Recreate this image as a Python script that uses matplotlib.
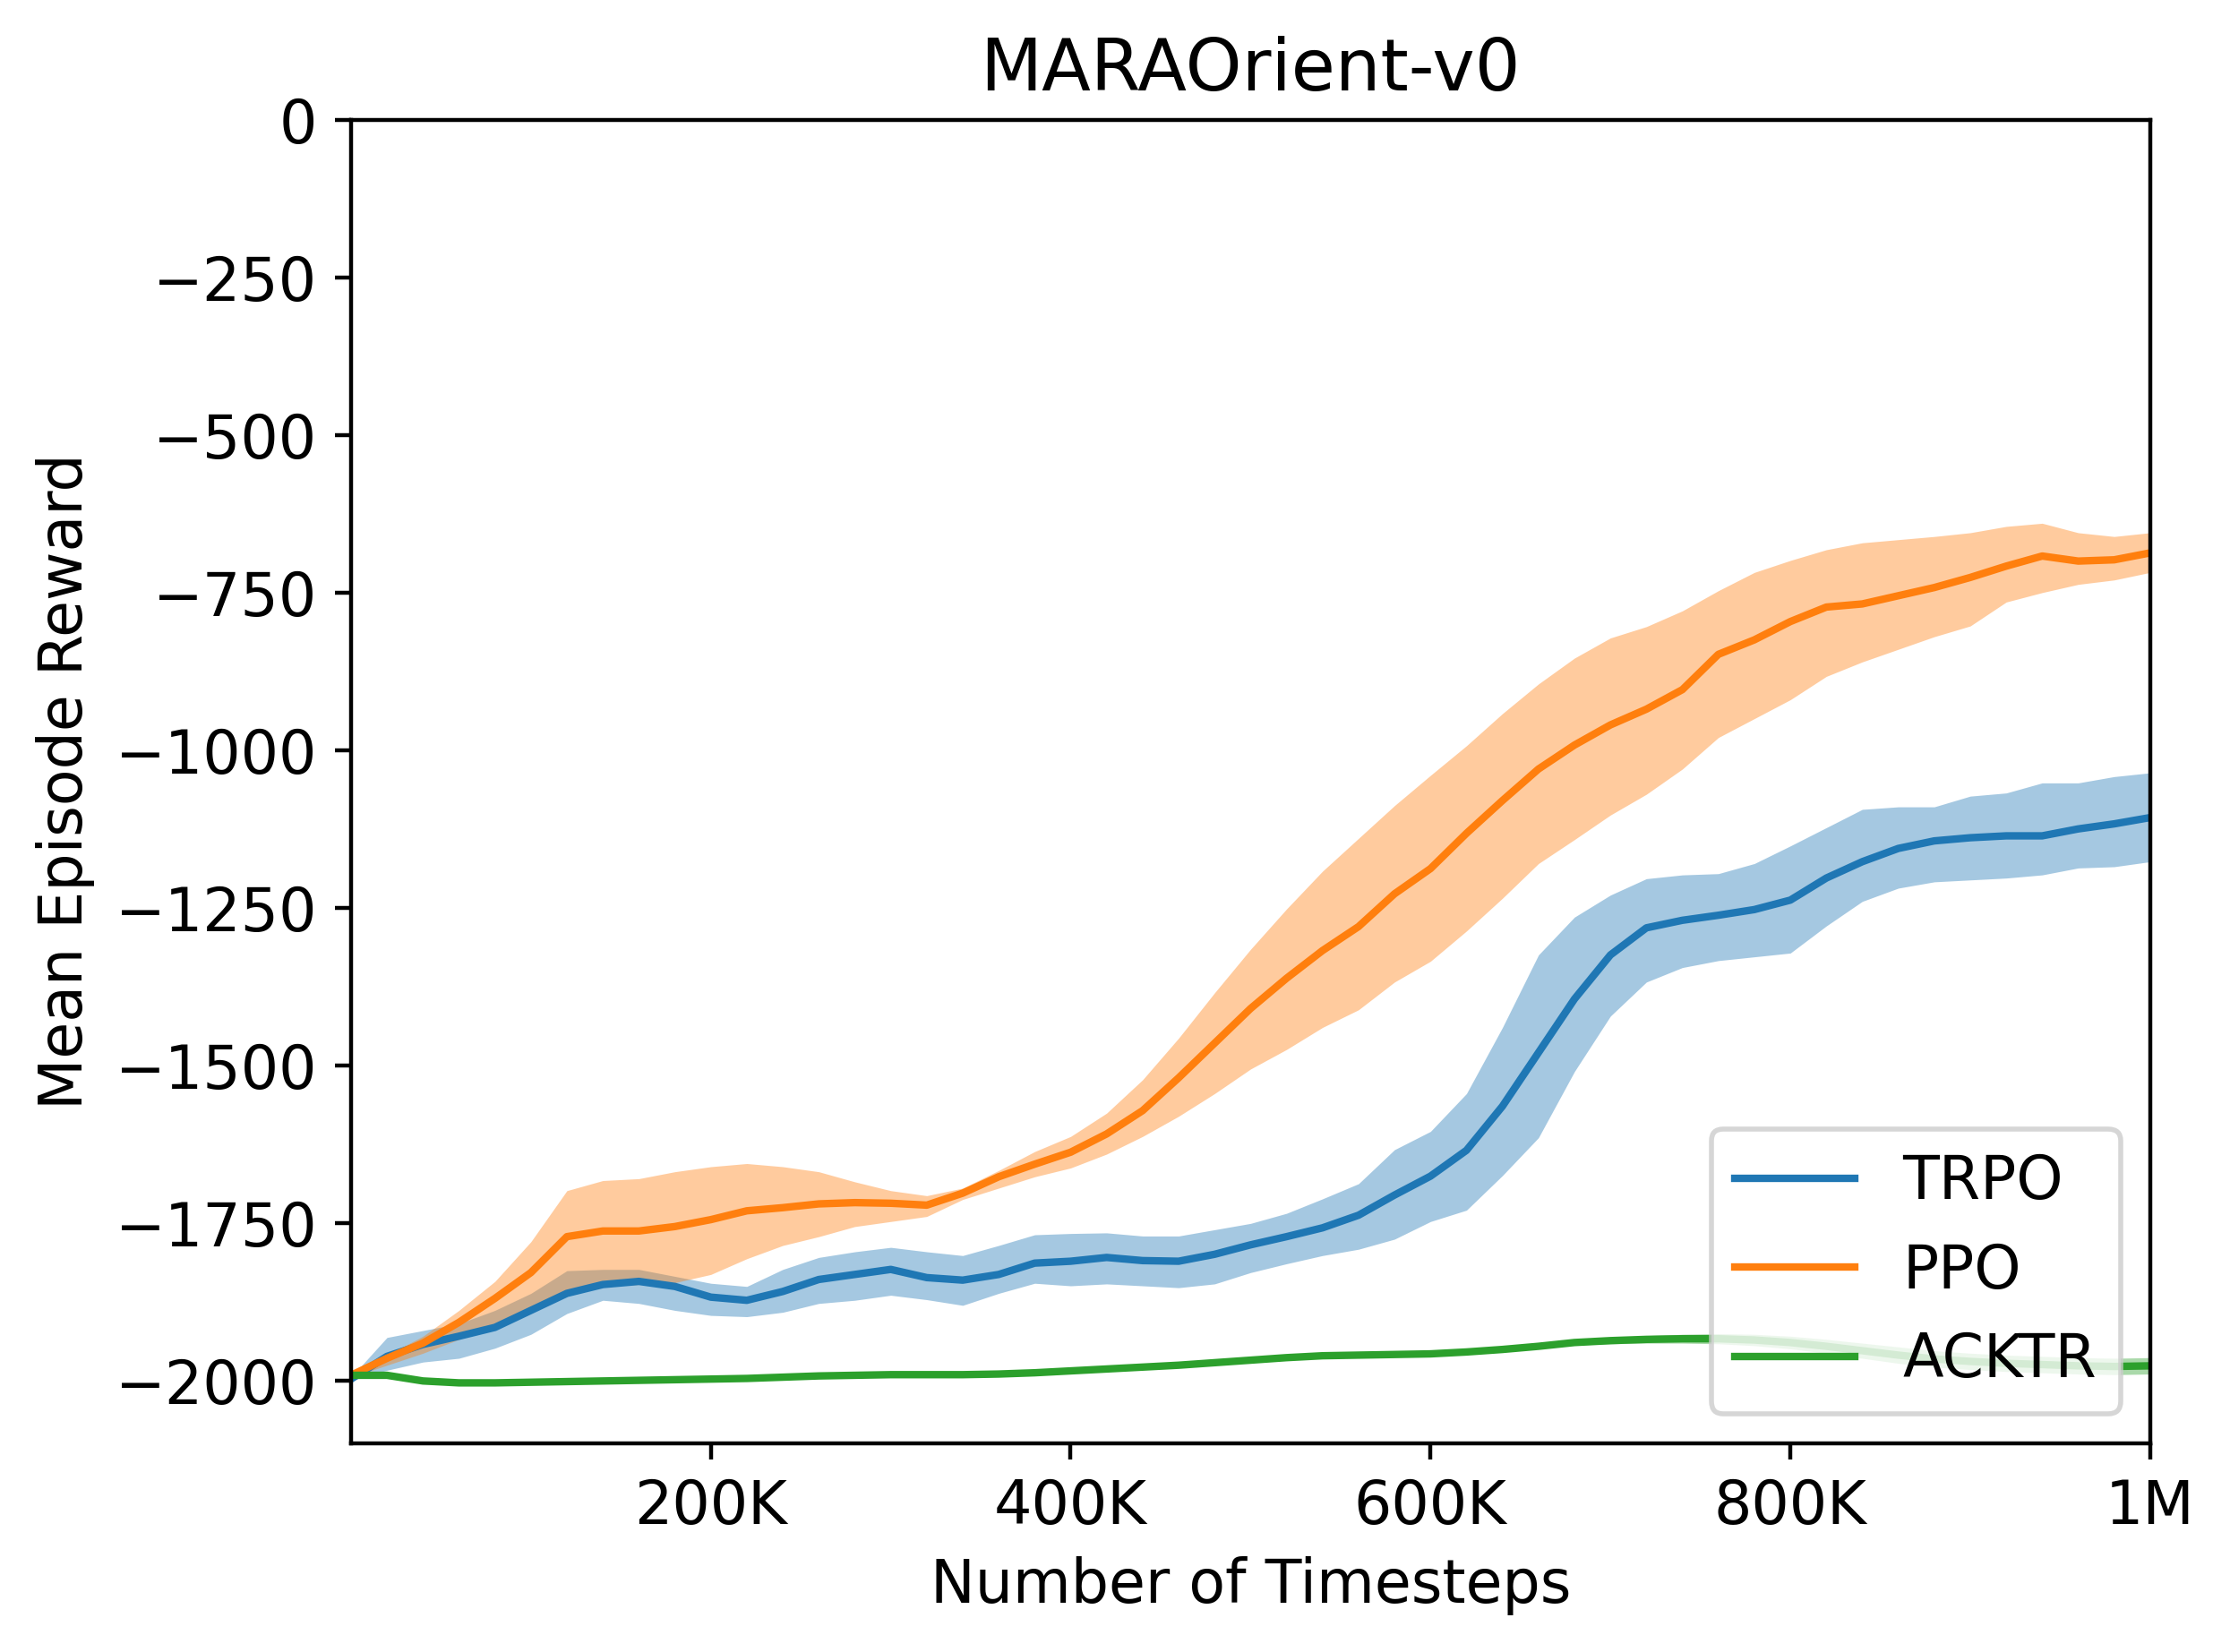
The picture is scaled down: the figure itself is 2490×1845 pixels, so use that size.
import numpy as np
import matplotlib
matplotlib.use("Agg")
from matplotlib import pyplot as plt

# timesteps in thousands
steps_k = [0, 20, 40, 60, 80, 100, 120, 140, 160, 180,
           200, 220, 240, 260, 280, 300, 320, 340, 360, 380,
           400, 420, 440, 460, 480, 500, 520, 540, 560, 580,
           600, 620, 640, 660, 680, 700, 720, 740, 760, 780,
           800, 820, 840, 860, 880, 900, 920, 940, 960, 980, 1000]

trpo_mean = [-1998, -1962, -1943, -1930, -1916, -1889, -1862, -1848, -1843, -1851,
             -1868, -1873, -1859, -1840, -1832, -1824, -1837, -1841, -1832, -1814,
             -1811, -1805, -1810, -1811, -1800, -1785, -1772, -1758, -1738, -1706,
             -1676, -1635, -1565, -1480, -1395, -1325, -1282, -1270, -1262, -1253,
             -1238, -1203, -1177, -1156, -1144, -1139, -1136, -1136, -1125, -1117, -1107]
trpo_upper = [-1995, -1932, -1921, -1910, -1889, -1862, -1826, -1824, -1824, -1835,
              -1846, -1851, -1824, -1805, -1796, -1789, -1796, -1802, -1786, -1769,
              -1767, -1766, -1771, -1771, -1761, -1751, -1735, -1712, -1688, -1634,
              -1605, -1545, -1440, -1325, -1265, -1230, -1204, -1198, -1196, -1180,
              -1152, -1123, -1094, -1090, -1090, -1073, -1068, -1052, -1052, -1042, -1036]
trpo_lower = [-2000, -1984, -1971, -1965, -1949, -1927, -1894, -1873, -1878, -1889,
              -1897, -1899, -1892, -1878, -1873, -1865, -1872, -1881, -1862, -1846,
              -1850, -1847, -1850, -1853, -1847, -1829, -1815, -1802, -1792, -1776,
              -1748, -1730, -1675, -1615, -1510, -1422, -1368, -1345, -1334, -1328,
              -1322, -1279, -1240, -1219, -1209, -1206, -1203, -1198, -1187, -1185, -1177]

ppo_mean = [-1992, -1965, -1941, -1908, -1870, -1829, -1772, -1763, -1763, -1756,
            -1745, -1731, -1726, -1720, -1718, -1719, -1722, -1703, -1677, -1657,
            -1638, -1609, -1572, -1520, -1465, -1410, -1362, -1318, -1280, -1228,
            -1188, -1132, -1080, -1030, -992, -960, -935, -904, -848, -825,
            -796, -773, -768, -755, -742, -726, -708, -692, -700, -698, -687]
ppo_upper = [-1992, -1960, -1930, -1889, -1843, -1780, -1699, -1683, -1680, -1669,
             -1661, -1656, -1661, -1669, -1685, -1699, -1707, -1695, -1667, -1637,
             -1613, -1576, -1523, -1457, -1385, -1316, -1252, -1192, -1140, -1088,
             -1040, -993, -942, -895, -854, -822, -804, -779, -747, -718,
             -699, -682, -671, -666, -661, -655, -645, -640, -655, -661, -655]
ppo_lower = [-1995, -1976, -1957, -1935, -1910, -1885, -1860, -1850, -1848, -1845,
             -1832, -1807, -1786, -1772, -1756, -1748, -1740, -1713, -1695, -1677,
             -1663, -1641, -1613, -1581, -1545, -1506, -1475, -1440, -1412, -1368,
             -1335, -1287, -1235, -1180, -1142, -1103, -1070, -1030, -980, -950,
             -920, -883, -860, -840, -820, -803, -765, -750, -737, -730, -718]

acktr_mean = [-1992, -1992, -2001, -2004, -2004, -2003, -2002, -2001, -2000, -1999,
              -1998, -1997, -1995, -1993, -1992, -1991, -1991, -1991, -1990, -1988,
              -1985, -1982, -1979, -1976, -1972, -1968, -1964, -1961, -1960, -1959,
              -1958, -1955, -1951, -1946, -1940, -1937, -1935, -1934, -1934, -1936,
              -1940, -1946, -1953, -1960, -1966, -1970, -1973, -1975, -1977, -1978, -1977]
acktr_spread = [4, 4, 4, 4, 4, 4, 4, 4, 4, 4,
                4, 4, 4, 4, 4, 4, 4, 4, 4, 4,
                4, 4, 4, 4, 4, 4, 4, 4, 4, 4,
                4, 4, 4, 4, 4, 5, 6, 7, 8, 9,
                10, 11, 12, 13, 13, 13, 13, 13, 13, 13, 13]

algos = ["TRPO", "PPO", "ACKTR"]
colors = ["tab:blue", "tab:orange", "tab:green"]

plt.rcParams["font.size"] = 12

x = np.array(steps_k) * 1000.0
acktr_mean_a = np.array(acktr_mean, dtype=float)
acktr_spread_a = np.array(acktr_spread, dtype=float)
curves = [
    (trpo_mean, trpo_lower, trpo_upper),
    (ppo_mean, ppo_lower, ppo_upper),
    (acktr_mean, acktr_mean_a - acktr_spread_a, acktr_mean_a + acktr_spread_a),
]

fig = plt.figure(figsize=(6.225, 4.6125), dpi=400)
ax = fig.add_axes([0.1574, 0.1263, 0.8068, 0.8011])

for name, col, (m, lo, hi) in zip(algos, colors, curves):
    ax.fill_between(x, lo, hi, color=col, alpha=0.4, linewidth=0)
    ax.plot(x, m, color=col, label=name)

ax.set_xlim(0, 1e6)
ax.set_ylim(-2100, 0)
ax.set_xticks([2e5, 4e5, 6e5, 8e5, 1e6])
ax.set_xticklabels(["200K", "400K", "600K", "800K", "1M"])
ax.set_yticks([0, -250, -500, -750, -1000, -1250, -1500, -1750, -2000])
ax.tick_params(length=3.3)
ax.set_xlabel("Number of Timesteps")
ax.set_ylabel("Mean Episode Reward")
ax.set_title("MARAOrient-v0")
ax.legend(loc="lower right")

fig.savefig("out.png", dpi=400)
